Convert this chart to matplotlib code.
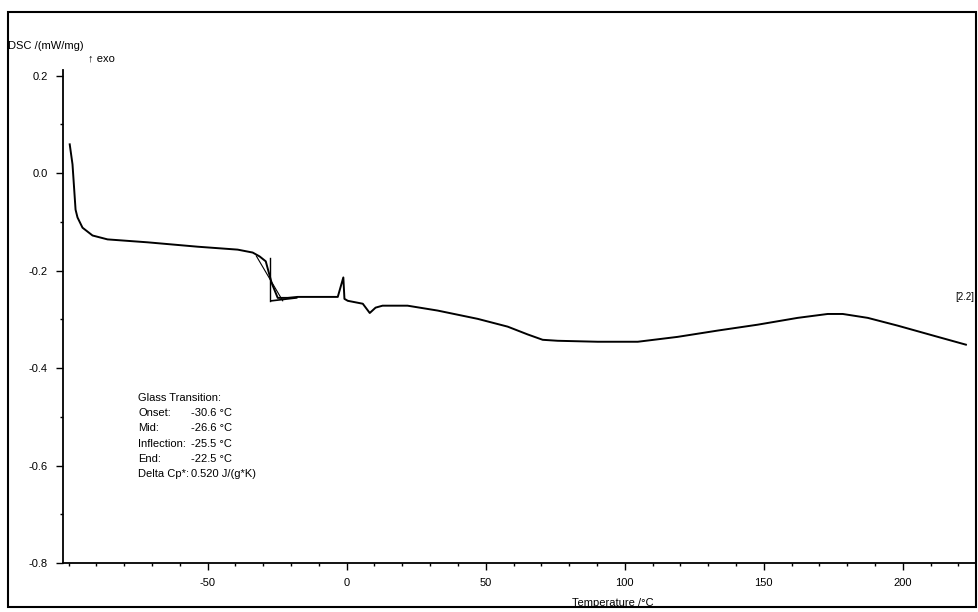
import numpy as np
import matplotlib
matplotlib.use("Agg")
import matplotlib.pyplot as plt
from matplotlib.patches import Rectangle

# DSC curve (temperature in degC, DSC in mW/mg)
temp = [-99.6, -98.6, -97.5, -96.8, -95.0, -91.4, -86.0, -71.6, -53.6, -39.2,
        -33.8, -31.3, -29.1, -27.0, -24.8, -21.2, -17.6, -3.2, -1.2, -0.8,
        0.4, 5.8, 8.3, 10.4, 12.9, 21.9, 32.7, 47.1, 57.9, 65.1, 70.5, 75.9,
        90.3, 104.7, 119.0, 133.5, 147.8, 162.2, 173.0, 178.4, 187.4, 198.2,
        212.6, 222.7]
dsc = [0.059, 0.018, -0.075, -0.091, -0.112, -0.128, -0.136, -0.142, -0.151, -0.157,
       -0.163, -0.171, -0.181, -0.225, -0.256, -0.256, -0.254, -0.254, -0.214, -0.258,
       -0.262, -0.268, -0.287, -0.276, -0.272, -0.272, -0.282, -0.299, -0.315, -0.331, -0.342, -0.344,
       -0.346, -0.346, -0.336, -0.323, -0.311, -0.297, -0.289, -0.289, -0.297, -0.313,
       -0.336, -0.352]

# glass transition evaluation
gt_labels = ["Glass Transition:", "Onset:", "Mid:", "Inflection:", "End:", "Delta Cp*:"]
gt_values = ["", "-30.6 \u00b0C", "-26.6 \u00b0C", "-25.5 \u00b0C", "-22.5 \u00b0C", "0.520 J/(g*K)"]

xticks = [-50, 0, 50, 100, 150, 200]
yticks = [0.2, 0.0, -0.2, -0.4, -0.6, -0.8]

plt.rcParams['font.family'] = ['Liberation Sans', 'DejaVu Sans']
plt.rcParams['font.size'] = 8

fig = plt.figure(figsize=(9.79, 6.12), dpi=100)
fig.patches.append(Rectangle((0.008, 0.008), 0.989, 0.972, transform=fig.transFigure,
                             fill=False, edgecolor='black', linewidth=1.5))
ax = fig.add_axes([0.0644, 0.080, 0.9316, 0.806])

ax.plot(temp, dsc, color='black', linewidth=1.4)

# tangent construction at the glass transition
ax.plot([-27.6, -27.6], [-0.175, -0.262], color='black', linewidth=1.0)
ax.plot([-32.5, -23.0], [-0.170, -0.262], color='black', linewidth=0.8)
ax.plot([-27.0, -18.0], [-0.262, -0.256], color='black', linewidth=1.2)

ax.set_xlim(-102, 226)
ax.set_ylim(-0.8, 0.212)
ax.set_xticks(xticks)
ax.set_xticklabels([str(t) for t in xticks])
ax.set_xticks(np.arange(-100, 221, 10), minor=True)
ax.set_yticks(yticks)
ax.set_yticklabels(["%.1f" % t for t in yticks])
ax.set_yticks(np.arange(-0.8, 0.21, 0.1), minor=True)
ax.tick_params(which='major', direction='out', length=5, width=1, pad=6)
ax.tick_params(which='minor', direction='out', length=2.5, width=1)

for s in ['top', 'right']:
    ax.spines[s].set_visible(False)
for s in ['left', 'bottom']:
    ax.spines[s].set_linewidth(1.3)

fig.text(0.008, 0.925, "DSC /(mW/mg)", fontsize=8, ha='left', va='center')
fig.text(0.090, 0.905, "\u2191 exo", fontsize=8, ha='left', va='center')
fig.text(0.626, 0.015, "Temperature /\u00b0C", fontsize=8, ha='center', va='center')

for i, (lab, val) in enumerate(zip(gt_labels, gt_values)):
    y = 0.350 - i * 0.025
    fig.text(0.141, y, lab, fontsize=8, ha='left', va='center')
    if val:
        fig.text(0.195, y, val, fontsize=8, ha='left', va='center')

ax.text(219, -0.255, "[2.2]", fontsize=7, ha='left', va='center')

fig.savefig("out.png", dpi=100)
